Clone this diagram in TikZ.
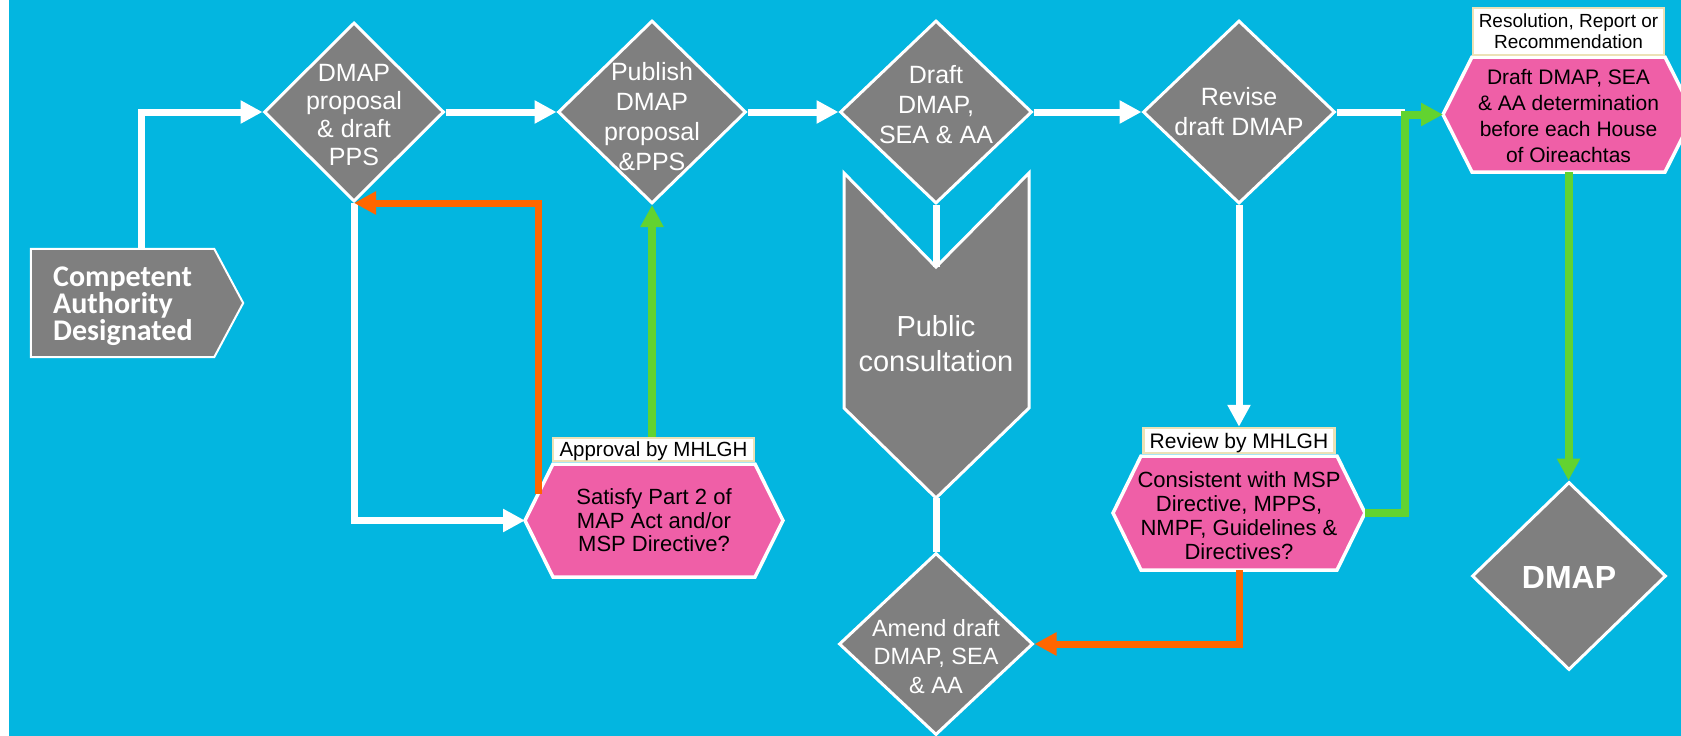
\documentclass[tikz,border=0pt]{standalone}
\usepackage{fontspec}
\setmainfont{Liberation Sans}
\newfontfamily\cabfont{Carlito}
\usetikzlibrary{arrows.meta,calc,shapes.geometric}

\definecolor{bgblue}{RGB}{3,182,224}
\definecolor{boxgray}{RGB}{127,127,127}
\definecolor{hexpink}{RGB}{239,95,167}
\definecolor{flowred}{RGB}{255,102,0}
\definecolor{flowgreen}{RGB}{98,211,48}
\definecolor{tagline}{RGB}{236,226,182}

\newcommand{\fsz}[2]{\fontsize{#1}{#2}\selectfont}
% hexagon with pointed ends: centre, half flat width, half height, point depth
\newcommand{\hexat}[4]{%
  \path[hexfill] ($(#1)+(-#2,-#3)$) -- ($(#1)+(#2,-#3)$) -- ($(#1)+(#2+#4,0)$)
    -- ($(#1)+(#2,#3)$) -- ($(#1)+(-#2,#3)$) -- ($(#1)+(-#2-#4,0)$) -- cycle;}

\begin{document}
\begin{tikzpicture}[x=1pt,y=-1pt,
  dia/.style={diamond, aspect=1, fill=boxgray, draw=white, line width=3pt, inner sep=0pt},
  dtext/.style={text=white, align=center, inner sep=0pt},
  hexfill/.style={fill=hexpink, draw=white, line width=3.5pt, line join=miter},
  htext/.style={text=black, align=center, inner sep=0pt},
  tag/.style={draw=tagline, fill=white, line width=2.5pt, inner sep=0pt, text=black, align=center},
  grayshape/.style={fill=boxgray, draw=white, line width=3pt},
  wline/.style={draw=white, line width=7pt},
  oline/.style={draw=flowred, line width=7pt},
  gline/.style={draw=flowgreen, line width=8pt},
  headed/.style={-{Triangle[length=22pt,width=22pt]}},
]
\useasboundingbox (0,0) rectangle (1681,736);
\clip (0,0) rectangle (1681,736);
\fill[white] (0,0) rectangle (1681,736);
\fill[bgblue] (9,0) rectangle (1681,736);

% start box
\node[minimum width=183pt, minimum height=108pt, inner sep=0pt] (ca) at (122.5,303) {};
\draw[grayshape, line width=2pt] (ca.north west) -- (ca.north east) -- ($(ca.east)+(29,0)$)
  -- (ca.south east) -- (ca.south west) -- cycle;
\node[anchor=west, text=white, align=left, inner sep=0pt,
  font=\cabfont\bfseries\fsz{30}{25}] (cat) at (53,306) {Competent\\Authority\\Designated};

% decision diamonds
\node[dia, minimum width=180pt, minimum height=179pt] (d1) at (354,112) {};
\node[dia, minimum width=188pt, minimum height=183pt] (d2) at (652,112) {};
\node[dia, minimum width=192pt, minimum height=183pt] (d3) at (936,112) {};
\node[dia, minimum width=192pt, minimum height=183pt] (d4) at (1239,112) {};
\node[dia, minimum width=194pt, minimum height=182pt] (am) at (936,644) {};
\node[dia, minimum width=194pt, minimum height=188pt] (dm) at (1569,576) {};

\node[dtext, font=\fsz{25}{28}] (d1t) at (354,115) {DMAP\\proposal\\\& draft\\PPS};
\node[dtext, font=\fsz{25}{30}] (d2t) at (652,117) {Publish\\DMAP\\proposal\\\&PPS};
\node[dtext, font=\fsz{25}{30}] (d3t) at (936,105) {Draft\\DMAP,\\SEA \& AA};
\node[dtext, font=\fsz{25}{30}] (d4t) at (1239,112) {Revise\\draft DMAP};
\node[dtext, font=\fsz{23.5}{28.5}] (amt) at (936,656.5) {Amend draft\\DMAP, SEA\\\& AA};
\node[dtext, font=\bfseries\fsz{32}{36}] (dmt) at (1569,577) {DMAP};

% consultation chevron
\coordinate (pcn) at (936,267);
\coordinate (pcb) at (936,498);
\draw[grayshape] (844,173) -- (pcn) -- (1029,173) -- (1029,408) -- (pcb) -- (844,408) -- cycle;
\node[dtext, font=\fsz{29}{35}] (pct) at (936,344) {Public\\consultation};

% review hexagons
\coordinate (h1) at (654,520.5);
\hexat{h1}{101}{56.5}{28}
\coordinate (h1w) at ($(h1)+(-129,0)$);
\coordinate (h1o) at (538,494);
\node[htext, font=\fsz{22}{23.5}] (h1t) at (h1) {Satisfy Part 2 of\\MAP Act and/or\\MSP Directive?};

\coordinate (h2) at (1239,513);
\hexat{h2}{98}{57}{28}
\coordinate (h2e) at ($(h2)+(126,0)$);
\coordinate (h2s) at ($(h2)+(0,57)$);
\node[htext, font=\fsz{22}{24}] (h2t) at (1239,516) {Consistent with MSP\\Directive, MPPS,\\NMPF, Guidelines \&\\Directives?};

\coordinate (h3) at (1568.5,114.5);
\hexat{h3}{96.5}{57.5}{29}
\coordinate (h3w) at ($(h3)+(-125.5,0)$);
\coordinate (h3s) at ($(h3)+(0,57.5)$);
\node[htext, font=\fsz{21}{26}] (h3t) at (1568.5,116.5) {Draft DMAP, SEA\\\& AA determination\\before each House\\of Oireachtas};

% tags above the hexagons
\node[tag, minimum width=201pt, minimum height=23pt, text depth=0pt, font=\fsz{20.5}{22}] (l1) at (653.5,449.5) {Approval by MHLGH};
\node[tag, minimum width=191pt, minimum height=25pt, text depth=0pt, font=\fsz{21}{22}] (l2) at (1239,440.5) {Review by MHLGH};
\node[tag, minimum width=191pt, minimum height=47pt, font=\fsz{19}{21}] (l3) at (1568.5,31.5) {Resolution, Report or\\Recommendation};

% connectors
\draw[wline, headed] ([xshift=18.5pt]ca.north) |- (d1.west);
\draw[wline, headed] (d1.east) -- (d2.west);
\draw[wline, headed] (d2.east) -- (d3.west);
\draw[wline, headed] (d3.east) -- (d4.west);
\draw[wline] (d4.east) -- ++(68,0);
\draw[wline] (d3.south) -- (pcn);
\draw[wline] (pcb) -- (am.north);
\draw[wline, headed] (d4.south) -- (l2.north);
\draw[wline, headed] (d1.south) |- (h1w);
\draw[oline, headed] (h1o) |- (d1.south);
\draw[gline, headed] (l1.north -| d2.south) -- (d2.south);
\draw[oline, headed] (h2s) |- (am.east);
\draw[gline, headed] (h2e) -- ++(39.5,0) |- (h3w);
\draw[gline, headed] (h3s) -- (h3s |- dm.north);
\end{tikzpicture}
\end{document}
